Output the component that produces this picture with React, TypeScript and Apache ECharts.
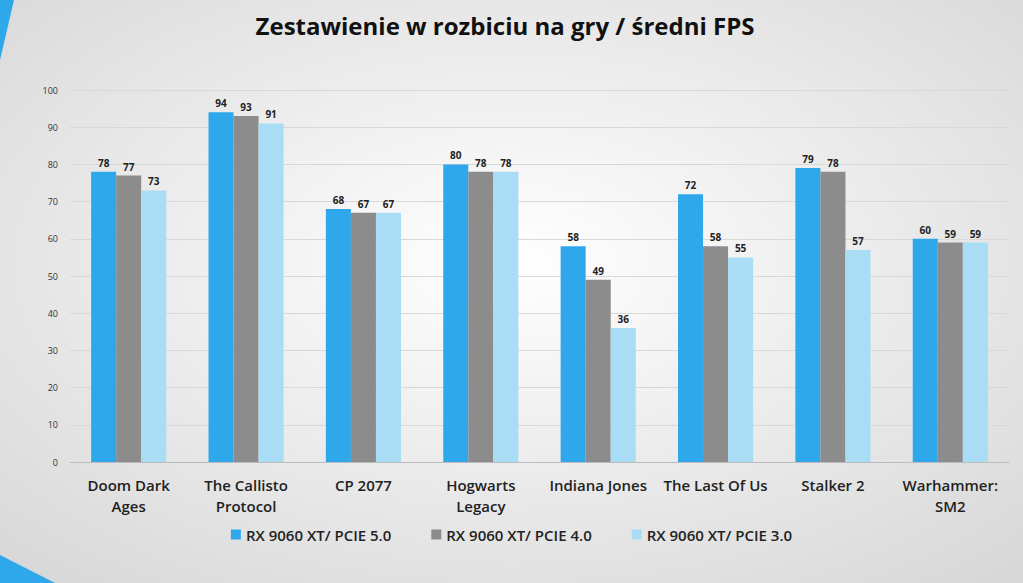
import React, { useEffect, useRef } from "react";
import * as echarts from "echarts";

const categories = ["Doom Dark\nAges", "The Callisto\nProtocol", "CP 2077", "Hogwarts\nLegacy", "Indiana Jones", "The Last Of Us", "Stalker 2", "Warhammer:\nSM2"];
const pcie5 = [78, 94, 68, 80, 58, 72, 79, 60];
const pcie4 = [77, 93, 67, 78, 49, 58, 78, 59];
const pcie3 = [73, 91, 67, 78, 36, 55, 57, 59];
const seriesNames = ["RX 9060 XT/ PCIE 5.0", "RX 9060 XT/ PCIE 4.0", "RX 9060 XT/ PCIE 3.0"];
const colors = ["#2EA8EA", "#8C8C8C", "#A9DDF5"];

export default function App() {
  const ref = useRef<HTMLDivElement>(null);
  useEffect(() => {
    const chart = echarts.init(ref.current!, null, { renderer: "svg" });
    const font = "Open Sans";
    chart.setOption({
      animation: false,
      backgroundColor: {
        type: "radial", x: 0.5, y: 0.45, r: 0.75,
        colorStops: [{ offset: 0, color: "#ffffff" }, { offset: 1, color: "#d6d6d6" }],
      },
      title: {
        text: "Zestawienie w rozbiciu na gry / średni FPS",
        left: 500, top: 8, textAlign: "center",
        textStyle: { fontFamily: font, fontSize: 24, fontWeight: "bold", color: "#111" },
      },
      graphic: [
        { type: "polygon", shape: { points: [[0, 0], [14, 0], [0, 60]] }, style: { fill: "#2EA8EA" } },
        { type: "polygon", shape: { points: [[0, 583], [55, 583], [0, 555]] }, style: { fill: "#2EA8EA" } },
      ],
      legend: {
        bottom: 36, left: "center", itemWidth: 10, itemHeight: 10, itemGap: 40,
        icon: "rect",
        textStyle: { fontFamily: font, fontSize: 15, fontWeight: 600, color: "#222" },
        data: seriesNames,
      },
      grid: { left: 70, right: 14, top: 90, bottom: 121 },
      xAxis: {
        type: "category", data: categories,
        axisLine: { lineStyle: { color: "#bbb" } },
        axisTick: { show: false },
        axisLabel: { interval: 0, fontFamily: font, fontSize: 15, fontWeight: 600, color: "#222", lineHeight: 21, margin: 12 },
      },
      yAxis: {
        type: "value", min: 0, max: 100, interval: 10,
        axisLabel: { fontFamily: font, fontSize: 9, color: "#333", margin: 12 },
        splitLine: { lineStyle: { color: "#d8d8d8" } },
      },
      series: [pcie5, pcie4, pcie3].map((d, i) => ({
        name: seriesNames[i], type: "bar", data: d, barGap: "0%", barCategoryGap: "36%",
        itemStyle: { color: colors[i] },
        label: { show: true, position: "top", fontFamily: font, fontSize: 10, fontWeight: "bold", color: "#222", distance: 4 },
      })),
    });
    return () => chart.dispose();
  }, []);
  return <div ref={ref} style={{ width: 1023, height: 583, position: "absolute", left: 0, top: 0 }} />;
}
